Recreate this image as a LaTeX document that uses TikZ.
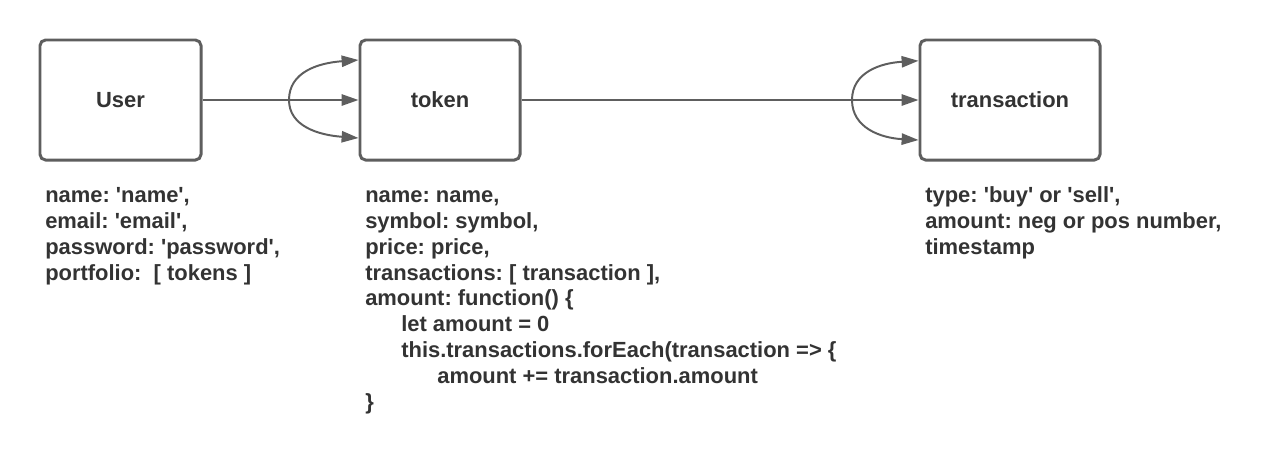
\documentclass[tikz,border=0pt]{standalone}
\usepackage{fontspec}
\setmainfont{Liberation Sans}
\usetikzlibrary{arrows.meta, positioning}
\definecolor{linegray}{HTML}{5E5E5E}
\definecolor{textgray}{HTML}{333333}
\newcommand{\sq}{\textquotesingle}
\frenchspacing

\begin{document}
\begin{tikzpicture}[
    x=0.025cm, y=-0.025cm,
    entity/.style={rectangle, draw=linegray, line width=2.1pt, rounded corners=4pt, minimum height=3cm, fill=white, text=textgray, font=\fontsize{15.6}{18.4}\selectfont\bfseries},
    attrs/.style={anchor=north west, inner sep=0pt, align=left, text=textgray, font=\fontsize{15.6}{18.4}\selectfont\bfseries},
    arrow/.style={-{Triangle[length=12pt,width=8pt]}, line width=1.4pt, draw=linegray}
]
\useasboundingbox (0,0) rectangle (1280,463);

% Entities
\node[entity, minimum width=4.025cm] (user) at (120.5,100) {User};
\node[entity, minimum width=4cm] (token) at (440,100) {token};
\node[entity, minimum width=4.5cm] (transaction) at (1010,100) {transaction};

% Fields
\node[attrs] (userattrs) at (45,184) {\strut name: \sq name\sq,\\email: \sq email\sq,\\password: \sq password\sq,\\portfolio:~~[ tokens ]};
\node[attrs] (tokenattrs) at (365,184) {\strut name: name,\\symbol: symbol,\\price: price,\\transactions: [ transaction ],\\amount: function() \{\\\hspace*{0.9cm}let amount = 0\\\hspace*{0.9cm}this.transactions.forEach(transaction => \{\\\hspace*{1.8cm}amount += transaction.amount\\\}};
\node[attrs] (transattrs) at (925,184) {\strut type: \sq buy\sq{} or \sq sell\sq,\\amount: neg or pos number,\\timestamp};

% Crow's feet
\coordinate (tokfork) at (289,100);
\coordinate (transfork) at (852,100);

% Arrows
\draw[arrow] (user) -- (token);
\draw[arrow] (tokfork) .. controls (289,72) and (318,63) .. ([yshift=1cm]token.west);
\draw[arrow] (tokfork) .. controls (289,126) and (318,135) .. ([yshift=-0.95cm]token.west);
\draw[arrow] (token) -- (transaction);
\draw[arrow] (transfork) .. controls (852,72) and (881,63) .. ([yshift=0.98cm]transaction.west);
\draw[arrow] (transfork) .. controls (852,128) and (881,138) .. ([yshift=-1cm]transaction.west);

\end{tikzpicture}
\end{document}
